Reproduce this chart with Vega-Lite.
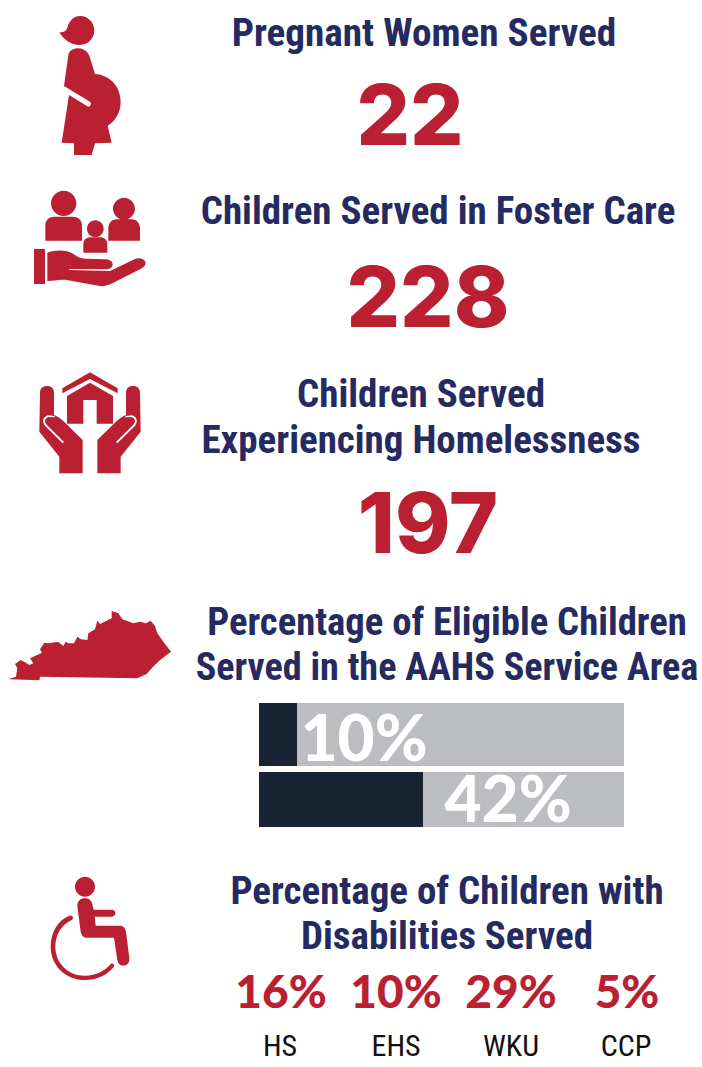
{
"$schema":"https://vega.github.io/schema/vega-lite/v6.json",
"width":702,"height":1067,"padding":0,"autosize":{"type":"none"},"background":"white",
"view":{"stroke":null},
"datasets":{
"headlines":[
{"column":1,"line":1,"text":"Pregnant Women Served"},
{"column":2,"line":2,"text":"Children Served in Foster Care"},
{"column":3,"line":3,"text":"Children Served"},
{"column":3,"line":4,"text":"Experiencing Homelessness"},
{"column":4,"line":5,"text":"Percentage of Eligible Children"},
{"column":4,"line":6,"text":"Served in the AAHS Service Area"},
{"column":4,"line":7,"text":"Percentage of Children with"},
{"column":4,"line":8,"text":"Disabilities Served"}],
"counts":[
{"column":1,"line":1,"value":22},
{"column":2,"line":2,"value":228},
{"column":2,"line":3,"value":197}],
"tracks":[{"series":"Total","share":100,"top":1,"bottom":2},{"series":"Total","share":100,"top":3,"bottom":4}],
"shares":[{"series":"Served A","share":10,"top":1,"bottom":2,"column":1,"line":1,"label":"10%"},{"series":"Served B","share":42,"top":3,"bottom":4,"column":2,"line":2,"label":"42%"}],
"disability":[
{"program":"HS","pct":"16%","column":1},
{"program":"EHS","pct":"10%","column":2},
{"program":"WKU","pct":"29%","column":3},
{"program":"CCP","pct":"5%","column":4}],
"icons":[
{"icon":"pregnant","slot":1},
{"icon":"family","slot":2},
{"icon":"home","slot":3},
{"icon":"kentucky","slot":4},
{"icon":"wheelchair","slot":5}]
},
"resolve":{"scale":{"x":"independent","y":"independent","size":"independent"}},
"layer":[
{"data":{"name":"icons"},
"mark":{"type":"point","filled":true,"opacity":1,"strokeWidth":0,"fill":"#ba2032"},
"encoding":{
"x":{"field":"slot","type":"quantitative","axis":null,"scale":{"domain":[1,2,3,4,5],"range":[0,0,20,0,30],"zero":false,"nice":false}},
"y":{"field":"slot","type":"quantitative","axis":null,"scale":{"domain":[1,2,3,4,5],"range":[0,180,360,600,865],"zero":false,"nice":false}},
"size":{"value":0.4444},
"shape":{"field":"icon","type":"nominal","legend":null,"scale":{"domain":["pregnant","family","home","kentucky","wheelchair"],"range":[
"M178,97 C192,98 200,92 203,80 C208,62 222,48 240,48 C264,48 283,67 283,91 C283,115 264,135 240,135 C212,135 190,118 178,97 Z M235,145 C255,145 268,160 272,180 L285,222 C330,225 362,260 362,305 C362,335 348,362 323,377 L335,428 L285,430 L275,465 L222,465 L222,430 L185,428 L207,285 L262,319 C270,322 276,312 270,305 L192,258 L205,165 C207,152 220,145 235,145 Z",
"M153,70 C153,49 170,32 191,32 C212,32 229,49 229,70 C229,91 212,108 191,108 C170,108 153,91 153,70 Z M136,182 L136,135 C136,120 148,110 163,110 L218,110 C234,110 246,120 246,135 L246,182 Z M339,86 C339,68 354,53 372,53 C390,53 405,68 405,86 C405,104 390,119 372,119 C354,119 339,104 339,86 Z M325,182 L325,145 C325,130 335,118 350,118 L395,118 C410,118 420,130 420,145 L420,182 Z M261,146 C261,132 272,121 286,121 C300,121 311,132 311,146 C311,160 300,171 286,171 C272,171 261,160 261,146 Z M250,218 L250,192 C250,180 260,172 272,172 L300,172 C312,172 322,180 322,192 L322,218 Z M102,207 L135,207 L135,312 L102,312 Z M142,218 C165,208 205,208 225,225 C235,233 245,235 255,236 L315,238 C330,238 338,245 338,253 C338,263 330,268 315,268 L208,267 L208,270 L330,273 L405,237 C420,230 437,238 437,250 C437,258 430,262 420,268 L340,308 C325,315 310,320 300,318 L200,300 C180,297 160,303 142,303 Z",
"M210,37 L293,85 L293,100 L210,57 L127,100 L127,85 Z M210,68 L279,108 L279,191 L230,191 L230,120 L190,120 L190,191 L141,191 L141,108 Z M60,100 C60,85 68,78 81,78 C94,78 102,85 102,100 L102,165 C110,168 120,175 130,183 L188,240 L188,340 L118,340 L118,290 L58,215 Z M132,246 L80,194 C72,186 74,174 86,171 L104,172 L104,168 L84,166 C68,170 66,187 75,197 L128,250 Z M360,100 C360,85 352,78 339,78 C326,78 318,85 318,100 L318,165 C310,168 300,175 290,183 L232,240 L232,340 L302,340 L302,290 L362,215 Z M288,246 L340,194 C348,186 346,174 334,171 L316,172 L316,168 L336,166 C352,170 354,187 345,197 L292,250 Z",
"M28,236 L48,230 L52,205 L45,192 L62,180 L78,188 L88,195 L100,190 L90,175 L118,162 L126,158 L120,148 L133,128 L145,130 L165,127 L175,126 L190,138 L197,125 L205,130 L222,130 L232,110 L243,118 L262,120 L265,100 L285,88 L292,62 L300,72 L335,55 L335,33 L355,40 L367,58 L400,70 L420,65 L438,70 L452,62 L465,78 L472,100 L490,125 L513,155 L480,180 L455,205 L440,222 L412,235 L120,230 L118,241 L28,238 Z",
"M135,65 C135,48.5 148.5,35 165,35 C181.5,35 195,48.5 195,65 C195,81.5 181.5,95 165,95 C148.5,95 135,81.5 135,65 Z M142,122 C142,108 152,100 165,100 C178,100 186,108 188,122 L191,134 L245,134 C252,134 256,139 256,144 C256,150 252,155 245,155 L194,155 L197,182 L270,182 C280,182 286,190 288,200 L298,280 C300,292 292,302 280,302 C270,302 264,295 262,285 L252,218 L170,218 C160,218 154,210 152,200 Z M118,152 C85,165 62,200 62,245 C62,300 105,345 165,345 C200,345 232,330 252,305 C254,298 248,293 242,297 C225,318 197,332 165,332 C112,332 76,292 76,245 C76,208 96,178 125,165 C133,160 128,148 118,152 Z"
]}}
}},
{"data":{"name":"headlines"},
"mark":{"type":"text","font":"Roboto Condensed","fontWeight":"bold","align":"center","baseline":"alphabetic","color":"#252a60"},
"encoding":{
"x":{"field":"column","type":"quantitative","axis":null,"scale":{"domain":[1,2,3,4],"range":[424,438,421,447],"zero":false,"nice":false}},
"y":{"field":"line","type":"quantitative","axis":null,"scale":{"domain":[1,2,3,4,5,6,7,8],"range":[46,224,407,453,635,680,904,949],"zero":false,"nice":false}},
"size":{"field":"line","type":"quantitative","legend":null,"scale":{"domain":[1,2,3,4,5,6,7,8],"range":[39.2,39,39,39,38.7,38.2,39,39],"zero":false,"nice":false}},
"text":{"field":"text"}}},
{"data":{"name":"counts"},
"mark":{"type":"text","font":"Inter","fontWeight":800,"fontSize":84,"align":"center","baseline":"alphabetic","color":"#ba2032"},
"encoding":{
"x":{"field":"column","type":"quantitative","axis":null,"scale":{"domain":[1,2],"range":[410,428],"zero":false,"nice":false}},
"y":{"field":"line","type":"quantitative","axis":null,"scale":{"domain":[1,2,3],"range":[145,327,553],"zero":false,"nice":false}},
"text":{"field":"value"}}},
{"data":{"name":"tracks"},
"mark":{"type":"rect","color":"#bcbdc0"},
"encoding":{
"x":{"field":"share","type":"quantitative","axis":null,"scale":{"domain":[0,10,42,100],"range":[259,297,423,624],"zero":false,"nice":false}},
"x2":{"datum":0},
"y":{"field":"top","type":"quantitative","axis":null,"scale":{"domain":[1,2,3,4],"range":[703,766,772,827],"zero":false,"nice":false}},
"y2":{"field":"bottom"}}},
{"data":{"name":"shares"},
"mark":{"type":"rect","color":"#182433"},
"encoding":{
"x":{"field":"share","type":"quantitative","axis":null,"scale":{"domain":[0,10,42,100],"range":[259,297,423,624],"zero":false,"nice":false}},
"x2":{"datum":0},
"y":{"field":"top","type":"quantitative","axis":null,"scale":{"domain":[1,2,3,4],"range":[703,766,772,827],"zero":false,"nice":false}},
"y2":{"field":"bottom"}}},
{"data":{"name":"shares"},
"mark":{"type":"text","font":"Lato","fontWeight":900,"fontSize":64,"align":"center","baseline":"alphabetic","color":"white"},
"encoding":{
"x":{"field":"column","type":"quantitative","axis":null,"scale":{"domain":[1,2],"range":[364,508],"zero":false,"nice":false}},
"y":{"field":"line","type":"quantitative","axis":null,"scale":{"domain":[1,2],"range":[761,822],"zero":false,"nice":false}},
"text":{"field":"label"}}},
{"data":{"name":"disability"},
"mark":{"type":"text","font":"Lato","fontWeight":900,"fontSize":46,"align":"center","baseline":"alphabetic","color":"#ba2032"},
"encoding":{
"x":{"field":"column","type":"quantitative","axis":null,"scale":{"domain":[1,2,3,4],"range":[281,396,511,627],"zero":false,"nice":false}},
"y":{"datum":1,"type":"quantitative","axis":null,"scale":{"domain":[0,1],"range":[0,1008],"zero":false,"nice":false}},
"text":{"field":"pct"}}},
{"data":{"name":"disability"},
"mark":{"type":"text","font":"Roboto Condensed","fontSize":30,"align":"center","baseline":"alphabetic","color":"#111111"},
"encoding":{
"x":{"field":"column","type":"quantitative","axis":null,"scale":{"domain":[1,2,3,4],"range":[280,396,511,626],"zero":false,"nice":false}},
"y":{"datum":1,"type":"quantitative","axis":null,"scale":{"domain":[0,1],"range":[0,1056],"zero":false,"nice":false}},
"text":{"field":"program"}}}
]
}
